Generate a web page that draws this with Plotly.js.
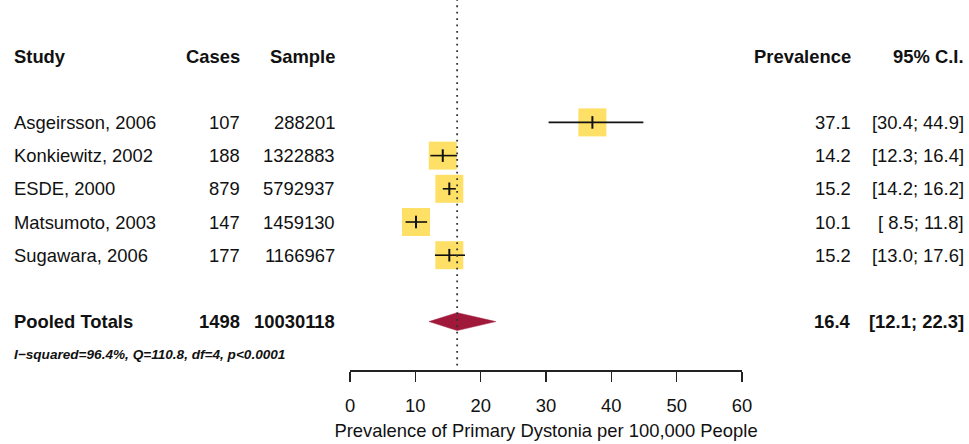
<!DOCTYPE html>
<html>
<head>
<meta charset="utf-8">
<script src="https://cdn.plot.ly/plotly-3.0.1.min.js"></script>
<style>html,body{margin:0;padding:0;background:#fff;}#chart{width:969px;height:444px;}</style>
</head>
<body>
<div id="chart"></div>
<script>
// ---- data ----
var studies = ["Asgeirsson, 2006", "Konkiewitz, 2002", "ESDE, 2000", "Matsumoto, 2003", "Sugawara, 2006"];
var cases = [107, 188, 879, 147, 177];
var samples = [288201, 1322883, 5792937, 1459130, 1166967];
var prevalence = [37.1, 14.2, 15.2, 10.1, 15.2];
var ciLower = [30.4, 12.3, 14.2, 8.5, 13.0];
var ciUpper = [44.9, 16.4, 16.2, 11.8, 17.6];
var pooledLabel = "Pooled Totals";
var pooledCases = 1498;
var pooledSample = 10030118;
var pooledPrev = 16.4;
var pooledLower = 12.1;
var pooledUpper = 22.3;
var heterogeneity = "I\u2212squared=96.4%, Q=110.8, df=4, p<0.0001";
var headers = ["Study", "Cases", "Sample", "Prevalence", "95% C.I."];
var xTicks = [0, 10, 20, 30, 40, 50, 60];
var xTitle = "Prevalence of Primary Dystonia per 100,000 People";

// ---- layout helpers ----
var W = 969, H = 444;
var L = 350, R = 227, T = 0, B = 74;
var plotW = W - L - R;
function px2paper(px) { return (px - L) / plotW; }
var rowStudy = studies.map(function (s, i) { return i + 2; });
var rowHeader = 0, rowPooled = 8, rowHet = 9;
var font = '"Liberation Sans", Arial, Helvetica, sans-serif';
var txt = '#111111';

function fmt1(v) { return v.toFixed(1); }
function fmtCI(lo, hi) {
  var a = fmt1(lo); if (lo < 10) a = ' ' + a;
  var b = fmt1(hi); if (hi < 10) b = ' ' + b;
  return '[' + a + '; ' + b + ']';
}

var ann = [];
function addText(text, pxX, row, anchor, bold, size, italic) {
  var t = text;
  if (bold) t = '<b>' + t + '</b>';
  if (italic) t = '<i>' + t + '</i>';
  ann.push({
    text: t, xref: 'paper', yref: 'y', x: px2paper(pxX), y: row,
    xanchor: anchor, yanchor: 'middle', showarrow: false,
    font: {family: font, size: size || 18.4, color: txt}
  });
}
var colStudy = 12, colCases = 242, colSample = 337, colPrev = 853, colCI = 966;
addText(headers[0], colStudy, rowHeader, 'left', true);
addText(headers[1], colCases, rowHeader, 'right', true);
addText(headers[2], colSample, rowHeader, 'right', true);
addText(headers[3], colPrev, rowHeader, 'right', true);
addText(headers[4], colCI, rowHeader, 'right', true);
studies.forEach(function (s, i) {
  addText(s, colStudy, rowStudy[i], 'left', false);
  addText(String(cases[i]), colCases, rowStudy[i], 'right', false);
  addText(String(samples[i]), colSample, rowStudy[i], 'right', false);
  addText(fmt1(prevalence[i]), colPrev, rowStudy[i], 'right', false);
  addText(fmtCI(ciLower[i], ciUpper[i]).replace(/ /g, '\u00a0'), colCI, rowStudy[i], 'right', false);
});
addText(pooledLabel, colStudy, rowPooled, 'left', true);
addText(String(pooledCases), colCases, rowPooled, 'right', true);
addText(String(pooledSample), colSample, rowPooled, 'right', true);
addText(fmt1(pooledPrev), colPrev, rowPooled, 'right', true);
addText(fmtCI(pooledLower, pooledUpper), colCI, rowPooled, 'right', true);
addText(heterogeneity, colStudy, rowHet, 'left', true, 13.6, true);

var diamondHalf = 0.27;
var traces = [
  {
    type: 'scatter', mode: 'markers', x: prevalence, y: rowStudy,
    marker: {symbol: 'square', size: 28, color: '#FFE066', line: {width: 0}},
    hoverinfo: 'skip', cliponaxis: false
  },
  {
    type: 'scatter', mode: 'markers', x: prevalence, y: rowStudy,
    marker: {symbol: 'line-ns', size: 9, line: {width: 2, color: '#111111'}},
    error_x: {
      type: 'data', symmetric: false,
      array: prevalence.map(function (p, i) { return ciUpper[i] - p; }),
      arrayminus: prevalence.map(function (p, i) { return p - ciLower[i]; }),
      thickness: 1.6, width: 0, color: '#111111'
    },
    hoverinfo: 'skip', cliponaxis: false
  },
  {
    type: 'scatter', mode: 'lines', fill: 'toself', fillcolor: '#A0193A',
    x: [pooledLower, pooledPrev, pooledUpper, pooledPrev, pooledLower],
    y: [rowPooled, rowPooled - diamondHalf, rowPooled, rowPooled + diamondHalf, rowPooled],
    line: {width: 0.5, color: '#A0193A'}, hoverinfo: 'skip'
  }
];

var pxTop = 56, rowStep = 33.2, axisPx = H - B;
var layout = {
  width: W, height: H,
  margin: {l: L, r: R, t: T, b: B, pad: 0},
  paper_bgcolor: '#ffffff', plot_bgcolor: '#ffffff',
  showlegend: false,
  xaxis: {
    range: [xTicks[0], xTicks[xTicks.length - 1]],
    tickmode: 'array', tickvals: xTicks, ticktext: xTicks.map(String),
    showgrid: false, zeroline: false,
    showline: true, linecolor: '#222222', linewidth: 1.5,
    ticks: 'outside', ticklen: 10, tickwidth: 1.5, tickcolor: '#222222',
    ticklabelstandoff: 8,
    tickfont: {family: font, size: 18.4, color: txt},
    title: {text: xTitle, font: {family: font, size: 18.4, color: txt}, standoff: 9},
    automargin: false, fixedrange: true
  },
  yaxis: {
    range: [(axisPx - pxTop) / rowStep, -pxTop / rowStep],
    visible: false, showgrid: false, zeroline: false, fixedrange: true
  },
  shapes: [{
    type: 'line', xref: 'x', yref: 'paper', x0: pooledPrev, x1: pooledPrev, y0: 0.012, y1: 1,
    line: {color: '#333333', width: 1.8, dash: '1.8px,4.6px'}
  }],
  annotations: ann
};

Plotly.newPlot('chart', traces, layout, {displayModeBar: false, staticPlot: true});
</script>
</body>
</html>
